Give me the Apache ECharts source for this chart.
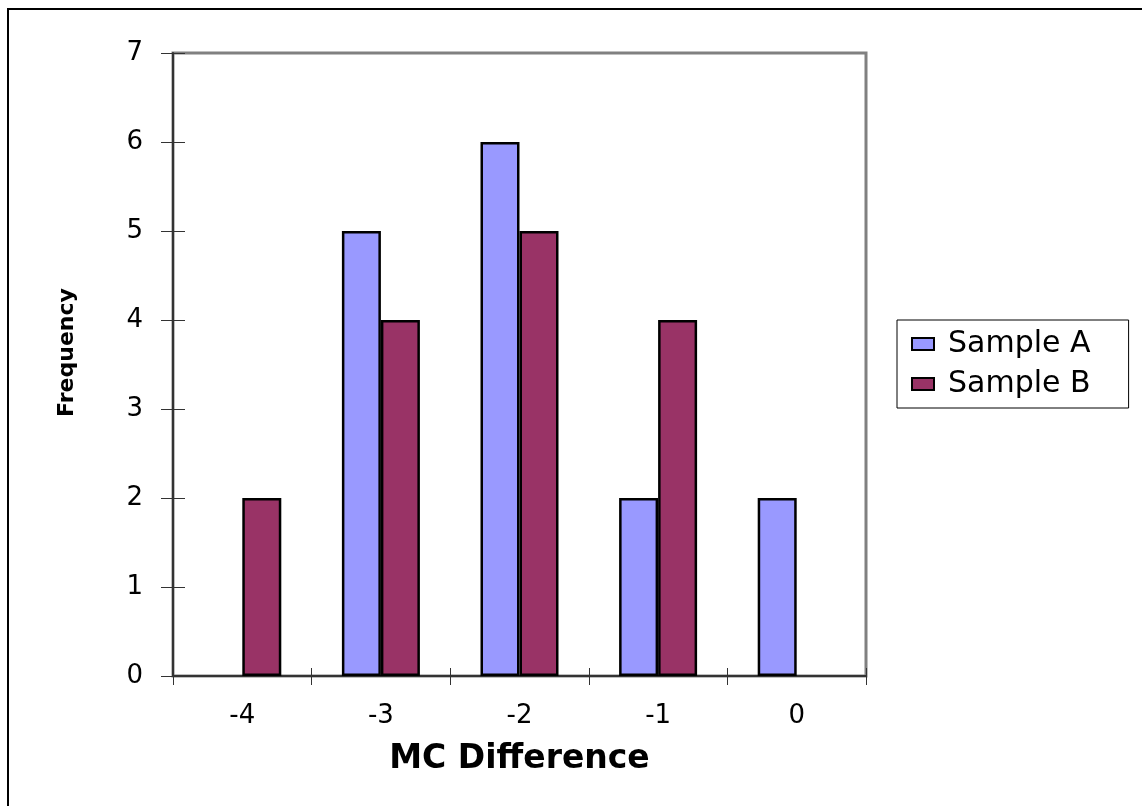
<!DOCTYPE html>
<html>
<head>
<meta charset="utf-8">
<script src="https://cdn.jsdelivr.net/npm/echarts@6/dist/echarts.min.js"></script>
<style>
html,body{margin:0;padding:0;background:#fff;}
#chart{width:1142px;height:806px;}
</style>
</head>
<body>
<div id="chart"></div>
<script>
const categories = ['-4', '-3', '-2', '-1', '0'];
const sampleA = [0, 5, 6, 2, 2];
const sampleB = [2, 4, 5, 4, 0];
const seriesNames = ['Sample A', 'Sample B'];

const chart = echarts.init(document.getElementById('chart'));
const FONT = 'DejaVu Sans, Liberation Sans, Arial, sans-serif';

// zero-height bars are not outlined
const toBarData = arr => arr.map(v => v === 0 ? {value: v, itemStyle: {borderWidth: 0}} : v);

chart.setOption({
  animation: false,
  backgroundColor: '#fff',
  textStyle: {fontFamily: FONT},
  grid: {left: 173, top: 53, width: 693, height: 623, show: true, borderColor: '#808080', borderWidth: 3, backgroundColor: '#fff'},
  graphic: [{
    type: 'rect', left: 7, top: 8, z: -10,
    shape: {width: 1150, height: 820},
    style: {fill: '#fff', stroke: '#000', lineWidth: 2}
  }],
  legend: {
    orient: 'vertical',
    left: 897, top: 320,
    padding: [9, 38, 9, 14],
    itemGap: 10,
    itemWidth: 22, itemHeight: 12,
    borderColor: '#000', borderWidth: 1,
    icon: 'rect',
    textStyle: {fontSize: 30, color: '#000', fontFamily: FONT, padding: [0, 0, 0, 9]},
    data: seriesNames
  },
  xAxis: [{
    type: 'category', data: categories,
    name: 'MC Difference', nameLocation: 'middle', nameGap: 67,
    nameTextStyle: {fontSize: 33, fontWeight: 'bold', color: '#000', fontFamily: FONT},
    axisLine: {lineStyle: {color: '#333', width: 2}},
    axisTick: {show: true, length: 9, lineStyle: {color: '#333'}},
    axisLabel: {fontSize: 26, color: '#000', margin: 27, fontFamily: FONT},
    splitLine: {show: false}
  }, {
    type: 'category', data: categories, position: 'bottom',
    axisLine: {show: false},
    axisTick: {show: true, inside: true, length: 8, lineStyle: {color: '#333'}},
    axisLabel: {show: false}
  }],
  yAxis: [{
    type: 'value', min: 0, max: 7, interval: 1,
    name: 'Frequency', nameLocation: 'middle', nameGap: 95, nameRotate: 90,
    nameTextStyle: {fontSize: 22, fontWeight: 'bold', color: '#000', fontFamily: FONT, padding: [0, 0, 0, 24]},
    axisLine: {show: true, lineStyle: {color: '#333', width: 2}},
    axisTick: {show: true, length: 12, lineStyle: {color: '#333'}},
    axisLabel: {fontSize: 26, color: '#000', margin: 30, fontFamily: FONT},
    splitLine: {show: false}
  }, {
    type: 'value', min: 0, max: 7, interval: 1, position: 'left',
    axisLine: {show: false},
    axisTick: {show: true, inside: true, length: 12, lineStyle: {color: '#333'}},
    axisLabel: {show: false},
    splitLine: {show: false}
  }],
  series: [{
    name: seriesNames[0], type: 'bar', data: toBarData(sampleA),
    barWidth: 39, barGap: '0%',
    itemStyle: {color: '#9999FF', borderColor: '#000', borderWidth: 2.5}
  }, {
    name: seriesNames[1], type: 'bar', data: toBarData(sampleB),
    barWidth: 39, barGap: '0%',
    itemStyle: {color: '#993366', borderColor: '#000', borderWidth: 2.5}
  }]
});
</script>
</body>
</html>
